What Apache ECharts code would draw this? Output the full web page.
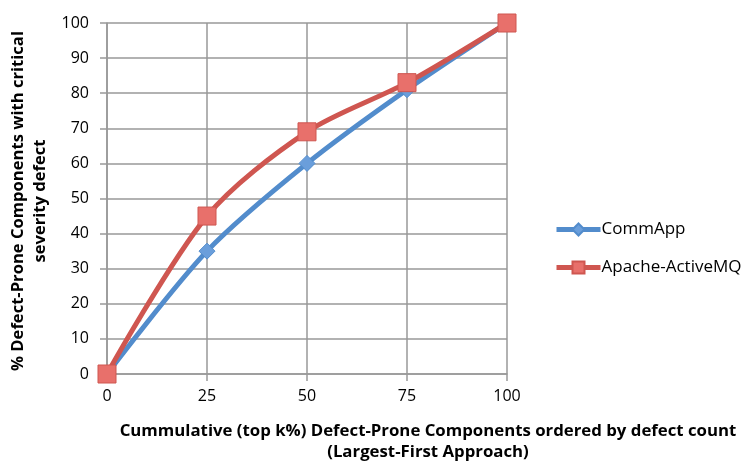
<!DOCTYPE html>
<html>
<head>
<meta charset="utf-8">
<script src="https://cdn.jsdelivr.net/npm/echarts@6/dist/echarts.min.js"></script>
<style>
    html, body { margin: 0; padding: 0; background: #fff; }
</style>
</head>
<body>
<div id="main" style="width: 749px;height:463px;"></div>
<script type="text/javascript">
    var xValues = [0, 25, 50, 75, 100];
    var commApp = [0, 35, 60, 81, 100];
    var activeMQ = [0, 45, 69, 83, 100];
    var xTitle = 'Cummulative (top k%) Defect-Prone Components ordered by defect count\n(Largest-First Approach)';
    var yTitle = '% Defect-Prone Components with critical\nseverity defect';

    function pairs(ys) {
        return ys.map(function (v, i) { return [xValues[i], v]; });
    }

    var myChart = echarts.init(document.getElementById('main'));
    var labelFont = 'Open Sans';
    var option = {
        animation: false,
        color: ['#528CCC', '#CF5650'],
        grid: {
            left: 107,
            right: 242,
            top: 23,
            bottom: 89,
            outerBoundsMode: 'none'
        },
        graphic: [
            {
                type: 'text',
                x: 428,
                y: 442,
                style: {
                    text: xTitle,
                    font: 'bold 16.8px "Open Sans"',
                    fill: '#000',
                    align: 'center',
                    verticalAlign: 'middle',
                    lineHeight: 21
                }
            },
            {
                type: 'text',
                x: 29,
                y: 201,
                rotation: Math.PI / 2,
                style: {
                    text: yTitle,
                    font: 'bold 16.6px "Open Sans"',
                    fill: '#000',
                    align: 'center',
                    verticalAlign: 'middle',
                    lineHeight: 22
                }
            }
        ],
        legend: {
            orient: 'vertical',
            left: 549,
            top: 216,
            itemGap: 21,
            itemWidth: 44,
            itemHeight: 15,
            lineStyle: { width: 5 },
            textStyle: { fontSize: 17, fontFamily: labelFont, color: '#000', padding: [0, 0, 0, -4] },
            data: ['CommApp', 'Apache-ActiveMQ']
        },
        xAxis: {
            type: 'value',
            min: 0,
            max: 100,
            interval: 25,
            axisLine: { show: true, lineStyle: { color: '#999', width: 1.5 } },
            axisTick: { show: true, length: 7, lineStyle: { color: '#999', width: 1.5 } },
            axisLabel: { fontSize: 16, fontFamily: labelFont, color: '#000', margin: 14 },
            splitLine: { show: true, lineStyle: { color: '#999', width: 1.5 } }
        },
        yAxis: {
            type: 'value',
            min: 0,
            max: 100,
            interval: 10,
            axisLine: { show: true, lineStyle: { color: '#999', width: 1.5 } },
            axisTick: { show: true, length: 7, lineStyle: { color: '#999', width: 1.5 } },
            axisLabel: { fontSize: 16, fontFamily: labelFont, color: '#000', margin: 18 },
            splitLine: { show: true, lineStyle: { color: '#999', width: 1.5 } }
        },
        series: [
            {
                name: 'CommApp',
                type: 'line',
                smooth: 0.3,
                data: pairs(commApp),
                symbol: 'diamond',
                symbolSize: 16,
                lineStyle: { width: 5, color: '#528CCC' },
                itemStyle: { color: '#6A9EDB', borderColor: '#528CCC', borderWidth: 1 }
            },
            {
                name: 'Apache-ActiveMQ',
                type: 'line',
                smooth: 0.3,
                data: pairs(activeMQ),
                symbol: 'rect',
                symbolSize: 18,
                lineStyle: { width: 5, color: '#CF5650' },
                itemStyle: { color: '#E8706B', borderColor: '#CF5650', borderWidth: 1 }
            }
        ]
    };
    myChart.setOption(option);
</script>
</body>
</html>
